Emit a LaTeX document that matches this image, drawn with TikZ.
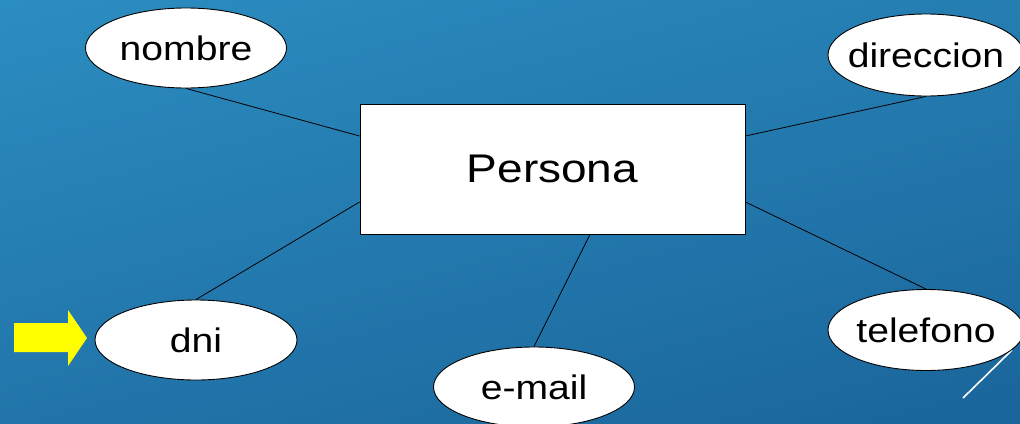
\documentclass[tikz,border=0pt]{standalone}
\usepackage{fontspec}
\newfontfamily\diafont[FakeStretch=1.15]{Liberation Sans}
\usetikzlibrary{shapes.geometric,calc}
\definecolor{bgtop}{HTML}{2C8DC0}
\definecolor{bgbot}{HTML}{1A659B}
\definecolor{arrowyellow}{HTML}{FFFF00}
\tikzset{
  attr/.style={ellipse, draw=black, line width=0.9pt, fill=white, inner ysep=0pt, inner xsep=-30pt, font=\diafont\fontsize{34}{36}\selectfont},
  entity/.style={rectangle, draw=black, line width=0.9pt, fill=white, inner sep=0pt, minimum width=385pt, minimum height=130pt, font=\diafont\fontsize{40}{44}\selectfont},
  link/.style={draw=black, line width=0.8pt},
}
\begin{document}
\begin{tikzpicture}[x=1pt,y=-1pt]
\useasboundingbox (0,0) rectangle (1020,423);
\clip (0,0) rectangle (1020,423);
\shade[top color=bgtop, bottom color=bgbot, shading angle=15] (-60,-60) rectangle (1080,483);
% decorative white line
\coordinate (w1) at (963,398);
\coordinate (w2) at (1012,350);
\draw[white, line width=1.6pt] (w1) -- (w2);
% entity
\node[entity] (p) at (552.5,169) {Persona};
% attributes
\node[attr, minimum width=201pt, minimum height=80pt] (nombre) at (186,48) {nombre};
\node[attr, minimum width=196pt, minimum height=82pt] (direccion) at (926,55) {direccion};
\node[attr, minimum width=202pt, minimum height=80pt] (dni) at (196,340) {dni};
\node[attr, minimum width=201pt, minimum height=80pt] (email) at (534,387) {e-mail};
\node[attr, minimum width=196pt, minimum height=81pt] (telefono) at (926,330) {telefono};
% connector endpoints on the entity
\coordinate (pwn) at ($(p.west)+(0,-33)$);
\coordinate (pws) at ($(p.west)+(0,33)$);
\coordinate (pen) at ($(p.east)+(0,-33)$);
\coordinate (pes) at ($(p.east)+(0,33)$);
\coordinate (psb) at ($(p.south)+(37.5,0)$);
\draw[link] (nombre.south) -- (pwn);
\draw[link] (dni.north) -- (pws);
\draw[link] (direccion.south) -- (pen);
\draw[link] (telefono.north) -- (pes);
\draw[link] (email.north) -- (psb);
% yellow arrow
\fill[arrowyellow] (14,323) -- (68,323) -- (68,310) -- (87,338) -- (68,366) -- (68,352) -- (14,352) -- cycle;
\end{tikzpicture}
\end{document}
